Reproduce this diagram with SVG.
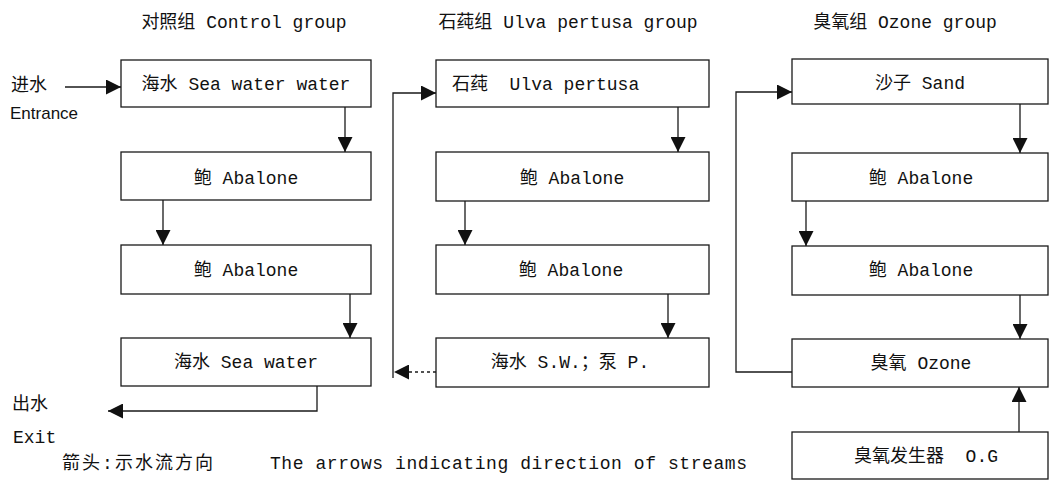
<svg xmlns="http://www.w3.org/2000/svg" width="1051" height="496" viewBox="0 0 1051 496">
<style>
.box{fill:#fff;stroke:#1a1a1a;stroke-width:1.3}
.t{font-family:"Liberation Mono","Noto Sans CJK SC",monospace;font-size:18px;fill:#111;white-space:pre}
.m{text-anchor:middle}
.s{font-family:"Liberation Sans","Noto Sans CJK SC",sans-serif;font-size:17px;fill:#111}
.c{fill:none;stroke:#1a1a1a;stroke-width:1.3}
</style>
<defs>
<marker id="ah" viewBox="0 0 14 14" refX="14" refY="7" markerWidth="15" markerHeight="15" orient="auto" markerUnits="userSpaceOnUse">
<path d="M0,0 L14,7 L0,14 z" fill="#111"/>
</marker>
</defs>
<g id="titles">
<text class="t m" x="244" y="28">对照组 Control group</text>
<text class="t m" x="568" y="28">石莼组 Ulva pertusa group</text>
<text class="t m" x="905" y="28">臭氧组 Ozone group</text>
</g>
<g id="labels">
<text class="t" x="11" y="91">进水</text>
<text class="s" x="10" y="119">Entrance</text>
<text class="t" x="12" y="410">出水</text>
<text class="t" x="13" y="443">Exit</text>
<text class="t" x="62" y="469" textLength="151">箭头:示水流方向</text>
<text class="t" x="270" y="469" textLength="477">The arrows indicating direction of streams</text>
</g>
<g id="c1"><rect class="box" x="121" y="60" width="250" height="47"/><text class="t m" x="246" y="90">海水 Sea water water</text></g>
<g id="c2"><rect class="box" x="121" y="152" width="250" height="48"/><text class="t m" x="246" y="184">鲍 Abalone</text></g>
<g id="c3"><rect class="box" x="121" y="245" width="250" height="49"/><text class="t m" x="246" y="276">鲍 Abalone</text></g>
<g id="c4"><rect class="box" x="121" y="338" width="250" height="48"/><text class="t m" x="246" y="368">海水 Sea water</text></g>
<g id="u1"><rect class="box" x="436" y="60" width="273" height="47"/><text class="t" x="452" y="90" xml:space="preserve">石莼  Ulva pertusa</text></g>
<g id="u2"><rect class="box" x="436" y="152" width="273" height="49"/><text class="t m" x="572" y="184">鲍 Abalone</text></g>
<g id="u3"><rect class="box" x="436" y="245" width="273" height="49"/><text class="t m" x="571" y="276">鲍 Abalone</text></g>
<g id="u4"><rect class="box" x="436" y="338" width="273" height="49"/><text class="t m" x="570" y="368">海水 S.W.；泵 P.</text></g>
<g id="o1"><rect class="box" x="792" y="59" width="256" height="45"/><text class="t m" x="920" y="89">沙子 Sand</text></g>
<g id="o2"><rect class="box" x="792" y="153" width="256" height="48"/><text class="t m" x="921" y="184">鲍 Abalone</text></g>
<g id="o3"><rect class="box" x="792" y="246" width="256" height="49"/><text class="t m" x="921" y="276">鲍 Abalone</text></g>
<g id="o4"><rect class="box" x="792" y="339" width="256" height="48"/><text class="t m" x="921" y="369">臭氧 Ozone</text></g>
<g id="o5"><rect class="box" x="792" y="432" width="256" height="47"/><text class="t m" x="926" y="462" xml:space="preserve">臭氧发生器  O.G</text></g>
<g id="connectors">
<path class="c" d="M65,87 H121" marker-end="url(#ah)"/>
<path class="c" d="M345,107 V152" marker-end="url(#ah)"/>
<path class="c" d="M163,200 V245" marker-end="url(#ah)"/>
<path class="c" d="M350,294 V338" marker-end="url(#ah)"/>
<path class="c" d="M317,386 V411 H108" marker-end="url(#ah)"/>
<path class="c" d="M436,372 H394" stroke-dasharray="3,3" marker-end="url(#ah)"/>
<path class="c" d="M393,378 V93 H436" marker-end="url(#ah)"/>
<path class="c" d="M678,107 V152" marker-end="url(#ah)"/>
<path class="c" d="M465,201 V245" marker-end="url(#ah)"/>
<path class="c" d="M668,294 V338" marker-end="url(#ah)"/>
<path class="c" d="M792,372 H736 V92 H792" marker-end="url(#ah)"/>
<path class="c" d="M1020,104 V153" marker-end="url(#ah)"/>
<path class="c" d="M806,201 V246" marker-end="url(#ah)"/>
<path class="c" d="M1020,295 V339" marker-end="url(#ah)"/>
<path class="c" d="M1019,432 V387" marker-end="url(#ah)"/>
</g>
</svg>
